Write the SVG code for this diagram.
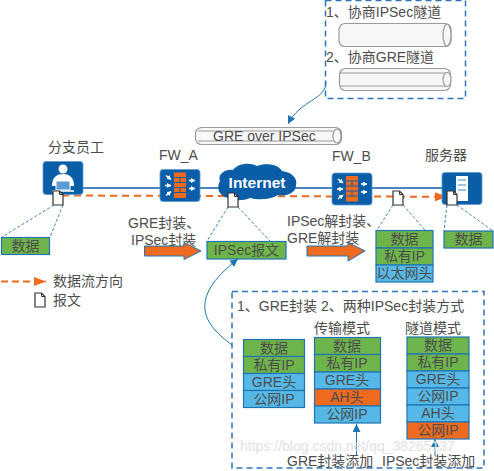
<svg xmlns="http://www.w3.org/2000/svg" width="494" height="471" viewBox="0 0 494 471">
<style>
text{font-family:"Liberation Sans","Noto Sans CJK SC",sans-serif;font-size:14px;fill:#4d4d4d}
.m{text-anchor:middle}
.g{fill:#6db54a;stroke:#1f74b4;stroke-width:1.2}
.b{fill:#56b8e6;stroke:#1f74b4;stroke-width:1.2}
.o{fill:#ed6a1f;stroke:#1f74b4;stroke-width:1.2}
.dash{fill:none;stroke:#2e75b6;stroke-width:1.5;stroke-dasharray:6 4}
.thin{fill:none;stroke:#2e75b6;stroke-width:.9;stroke-dasharray:3 2}
.curve{fill:none;stroke:#1f74b4;stroke-width:1}
.icon{fill:#0a5ea8;stroke:#5b9bd5;stroke-width:.8}
.tube{fill:#f6f7f6;stroke:#9a9a9a;stroke-width:1.2}
.doc{fill:#fff;stroke:#333;stroke-width:1.2}
.arrow{fill:#ed6a1f;stroke:#1f74b4;stroke-width:1}
.brick{fill:#ed6a1f}
.wh{fill:none;stroke:#fff;stroke-width:1.6;marker-end:url(#w)}
</style>
<defs>
<marker id="bl" markerUnits="userSpaceOnUse" markerWidth="10" markerHeight="10" refX="8" refY="4" orient="auto"><path d="M0 0L8 4L0 8z" fill="#1f74b4"/></marker>
<marker id="or" markerUnits="userSpaceOnUse" markerWidth="13" markerHeight="10" refX="12" refY="4.5" orient="auto"><path d="M0 0L12 4.5L0 9z" fill="#ed6a1f"/></marker>
<marker id="w" markerUnits="userSpaceOnUse" markerWidth="5" markerHeight="5" refX="4" refY="2.5" orient="auto"><path d="M0 0L4 2.5L0 5z" fill="#fff"/></marker>
<g id="docshape"><path class="doc" d="M0 0H6.5L10 3.5V14H0z"/><path d="M6.5 0V3.5H10" fill="none" stroke="#333"/></g>
<g id="fw">
<rect class="icon" x="0" y="0" width="40" height="32" rx="3"/>
<rect class="brick" x="14" y="3" width="12" height="4.5"/><rect class="brick" x="14" y="8.5" width="5.5" height="4"/><rect class="brick" x="20.500" y="8.500" width="5.500" height="4"/>
<rect class="brick" x="14" y="13.500" width="12" height="4"/><rect class="brick" x="14" y="18.500" width="5.500" height="4"/><rect class="brick" x="20.500" y="18.500" width="5.500" height="4"/><rect class="brick" x="14" y="23.500" width="12" height="5"/>
<path class="wh" d="M6 6L11 10"/><path class="wh" d="M5 16H11"/><path class="wh" d="M6 26L11 22"/><path class="wh" d="M29 11H35"/><path class="wh" d="M29 19H35"/>
</g>
</defs>

<g id="connectors">
<path d="M83 188H442" fill="none" stroke="#0a5ea8" stroke-width="1.6"/>
<path d="M62 195.500L447 196.800" fill="none" stroke="#ed6a1f" stroke-width="2" stroke-dasharray="7 5" marker-end="url(#or)"/>
<path class="thin" d="M54 205L2 237M63 205L50 237"/>
<path class="thin" d="M228 207L207 241M238 207L270 241"/>
<path class="thin" d="M393 205L377 230M403 205L425 230"/>
<path class="thin" d="M447 205L444 231M457 205L493 231"/>
<path class="curve" d="M326 82C326 100 300 100 288 124" marker-end="url(#bl)"/>
<path class="curve" d="M232 345C205 325 185 300 238 259" marker-end="url(#bl)"/>
<path class="curve" d="M356.500 455V424" marker-end="url(#bl)"/>
<path class="curve" d="M435 455V439" marker-end="url(#bl)"/>
</g>

<g id="top-box">
<rect class="dash" x="325.500" y="0.500" width="140" height="98"/>
<text x="326" y="17">1、协商IPSec隧道</text>
<rect class="tube" x="339" y="23.500" width="112" height="23" rx="6"/>
<ellipse class="tube" cx="447" cy="35" rx="4" ry="11"/>
<text x="326" y="62">2、协商GRE隧道</text>
<rect class="tube" x="339.500" y="68.500" width="111" height="22" rx="6"/>
<path d="M340 73H446M340 86H446" fill="none" stroke="#9a9a9a"/>
<ellipse class="tube" cx="447" cy="79.500" rx="4" ry="7"/>
</g>

<g id="tunnel">
<rect class="tube" x="195.500" y="127.500" width="146" height="17" rx="6"/>
<path d="M198 131H338M198 141H338" fill="none" stroke="#9a9a9a"/>
<ellipse class="tube" cx="337" cy="136" rx="4" ry="7"/>
<text x="213" y="141">GRE over IPSec</text>
</g>

<g id="employee">
<text x="48" y="152">分支员工</text>
<rect class="icon" x="43" y="161.500" width="40" height="33" rx="3"/>
<circle cx="63" cy="169" r="4.500" fill="#fff"/>
<path d="M52 186C52 177 57 174 63 174C69 174 74 177 74 186z" fill="#fff"/>
<rect x="56" y="181" width="14" height="9" fill="#5b9bd5" stroke="#fff"/>
<path d="M52 191H74" stroke="#fff" stroke-width="1.500"/>
</g>

<g id="fw-a"><text x="159" y="160">FW_A</text><use href="#fw" x="160" y="169.500"/></g>

<g id="internet">
<path d="M228 198C219 196 216 188 220 181C217 174 226 169 233 170C238 163 250 162 257 166C267 162 279 165 282 171C292 172 298 179 296 185C296 193 286 197 278 195C270 200 258 200 250 198C243 201 234 201 228 198z" fill="#0a5ea8"/>
<text x="257" y="188" class="m" style="fill:#fff;font-weight:bold;font-size:15.500px">Internet</text>
</g>

<g id="fw-b"><text x="332" y="161">FW_B</text><use href="#fw" x="332" y="173"/></g>

<g id="server">
<text x="425" y="160">服务器</text>
<rect class="icon" x="442" y="172.500" width="40" height="32" rx="3"/>
<rect x="456" y="176" width="12" height="25" fill="#fff"/>
<path d="M458 180H466M458 185H466M458 190H466" stroke="#9cc4e4" stroke-width="2"/>
</g>

<g id="docs">
<use href="#docshape" x="53" y="191"/>
<use href="#docshape" x="228" y="193"/>
<use href="#docshape" x="393" y="191"/>
<use href="#docshape" x="447" y="191"/>
</g>

<g id="data-1"><rect class="g" x="1.500" y="237.500" width="48" height="17"/><text x="25.500" y="251" class="m">数据</text></g>

<g id="ipsec-packet"><rect class="g" x="207" y="241.500" width="79" height="17.500"/><text x="246.500" y="255" class="m">IPSec报文</text></g>

<g id="encap">
<text x="128" y="228">GRE封装、</text>
<text x="131" y="245">IPSec封装</text>
<path class="arrow" d="M144.500 246H184V242.500L201 251L184 259.500V256H144.500z"/>
</g>

<g id="decap">
<text x="287" y="226">IPSec解封装、</text>
<text x="287" y="243">GRE解封装</text>
<path class="arrow" d="M307 246H348V242.500L365 251L348 261V256H307z"/>
</g>

<g id="stack-fw-b">
<rect class="g" x="376" y="230.500" width="57" height="17.500"/><text x="404.500" y="244" class="m">数据</text>
<rect class="g" x="376" y="248" width="57" height="17"/><text x="404.500" y="261" class="m">私有IP</text>
<rect class="b" x="376" y="265" width="57" height="17"/><text x="404.500" y="278" class="m">以太网头</text>
</g>

<g id="data-2"><rect class="g" x="444" y="231" width="49" height="17"/><text x="468.500" y="244" class="m">数据</text></g>

<g id="legend">
<path d="M1 281.500H46" fill="none" stroke="#ed6a1f" stroke-width="2" stroke-dasharray="7 4" marker-end="url(#or)"/>
<text x="53" y="286">数据流方向</text>
<use href="#docshape" x="35" y="293"/>
<text x="53" y="305">报文</text>
</g>

<g id="encap-box">
<rect class="dash" x="232" y="291.500" width="252" height="176.500"/>
<text x="237" y="311">1、GRE封装  2、两种IPSec封装方式</text>
<text x="314" y="333">传输模式</text>
<text x="405" y="333">隧道模式</text>
</g>

<g id="stack-gre">
<rect class="g" x="243.500" y="339.500" width="61" height="17"/><text x="274" y="353" class="m">数据</text>
<rect class="g" x="243.500" y="356.500" width="61" height="17"/><text x="274" y="370" class="m">私有IP</text>
<rect class="b" x="243.500" y="373.500" width="61" height="17"/><text x="274" y="387" class="m">GRE头</text>
<rect class="b" x="243.500" y="390.500" width="61" height="17"/><text x="274" y="404" class="m">公网IP</text>
</g>

<g id="stack-transport">
<rect class="g" x="314.500" y="337.500" width="66" height="17"/><text x="347" y="351" class="m">数据</text>
<rect class="g" x="314.500" y="354.500" width="66" height="17.500"/><text x="347" y="368" class="m">私有IP</text>
<rect class="b" x="314.500" y="372" width="66" height="17"/><text x="347" y="385" class="m">GRE头</text>
<rect class="o" x="314.500" y="389" width="66" height="17"/><text x="347" y="402" class="m">AH头</text>
<rect class="b" x="314.500" y="406" width="66" height="17"/><text x="347" y="419" class="m">公网IP</text>
</g>

<g id="stack-tunnel">
<rect class="g" x="407" y="337" width="62" height="17"/><text x="438" y="350" class="m">数据</text>
<rect class="g" x="407" y="354" width="62" height="17"/><text x="438" y="367" class="m">私有IP</text>
<rect class="b" x="407" y="371" width="62" height="17"/><text x="438" y="384" class="m">GRE头</text>
<rect class="b" x="407" y="388" width="62" height="17"/><text x="438" y="401" class="m">公网IP</text>
<rect class="b" x="407" y="405" width="62" height="17"/><text x="438" y="418" class="m">AH头</text>
<rect class="o" x="407" y="422" width="62" height="17"/><text x="438" y="435" class="m">公网IP</text>
</g>

<text x="240" y="451" style="fill:#e2e2e2;font-size:14px">https://blog.csdn.net/qq_38265137</text>
<text x="287" y="466">GRE封装添加</text>
<text x="382" y="466">IPSec封装添加</text>
</svg>
